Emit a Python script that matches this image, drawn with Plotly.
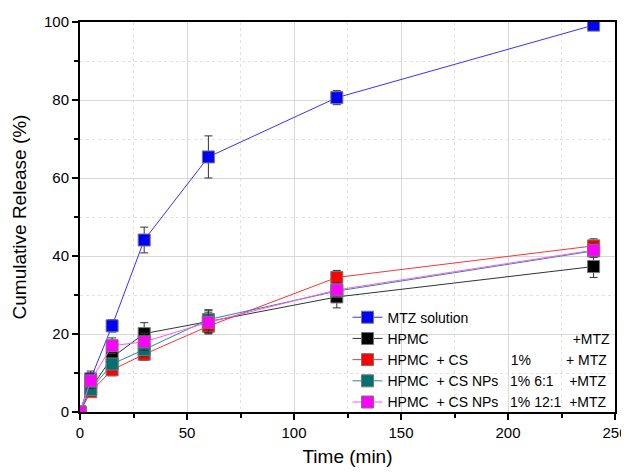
import plotly.graph_objects as go

time_min = [0, 5, 15, 30, 60, 120, 240]

mtz_solution = [0, 8.5, 22.1, 44.1, 65.4, 80.6, 99.2]
mtz_solution_err = [0, 2.0, 1.6, 3.3, 5.4, 1.8, 0.8]

hpmc = [0, 6.0, 14.0, 20.1, 23.2, 29.5, 37.3]
hpmc_err = [0, 1.5, 1.6, 2.8, 3.0, 2.8, 2.8]

hpmc_cs = [0, 5.2, 10.8, 14.8, 22.0, 34.5, 42.6]
hpmc_cs_err = [0, 1.2, 1.5, 1.6, 2.0, 1.8, 1.8]

hpmc_csnp_6 = [0, 5.8, 12.3, 16.0, 23.7, 31.0, 41.3]
hpmc_csnp_6_err = [0, 1.4, 1.5, 1.8, 2.4, 1.6, 1.6]

hpmc_csnp_12 = [0, 8.0, 17.0, 18.0, 23.0, 31.3, 41.5]
hpmc_csnp_12_err = [0, 2.0, 2.0, 2.2, 2.6, 1.8, 1.8]

NB = "\u00a0"
names = [
    "MTZ solution",
    "HPMC" + NB * 37 + "+MTZ",
    "HPMC" + NB * 2 + "+ CS" + NB * 11 + "1%" + NB * 9 + "+ MTZ",
    "HPMC" + NB * 2 + "+ CS NPs" + NB * 3 + "1%" + NB + "6:1" + NB * 4 + "+MTZ",
    "HPMC" + NB * 2 + "+ CS NPs" + NB * 3 + "1%" + NB + "12:1" + NB * 2 + "+MTZ",
]
series = [mtz_solution, hpmc, hpmc_cs, hpmc_csnp_6, hpmc_csnp_12]
errors = [mtz_solution_err, hpmc_err, hpmc_cs_err, hpmc_csnp_6_err, hpmc_csnp_12_err]
line_colors = ["#3333ff", "#333333", "#ff3333", "#2a8c8c", "#ff55ff"]
marker_colors = ["#0000ff", "#000000", "#ff0000", "#007070", "#ff00ff"]

fig = go.Figure()
for name, y, err, lc, mc in zip(names, series, errors, line_colors, marker_colors):
    fig.add_trace(go.Scatter(
        x=time_min, y=y, name=name, mode="lines+markers",
        line=dict(color=lc, width=1),
        marker=dict(symbol="square", size=12, color=mc,
                    line=dict(color="#777777", width=1)),
        error_y=dict(type="data", array=err, color="#333333", thickness=1, width=4),
    ))

# page body has an 8px margin; keep the figure short enough to avoid scrollbars
fig.update_layout(
    width=621, height=459,
    margin=dict(l=72, r=14, t=14, b=55),
    paper_bgcolor="white", plot_bgcolor="white",
    font=dict(family="Liberation Sans, Arial, sans-serif", size=15, color="black"),
    showlegend=True,
    legend=dict(x=0.5, y=0.283, xanchor="left", yanchor="top",
                bgcolor="rgba(0,0,0,0)", font=dict(size=14, color="black"),
                tracegroupgap=0, itemwidth=30),
    xaxis=dict(
        range=[0, 250], dtick=50, tick0=0, automargin=False,
        ticklabeloverflow="allow",
        title=dict(text="Time (min)", font=dict(size=19), standoff=12),
        showline=True, linecolor="black", linewidth=2, mirror=True,
        ticks="outside", ticklen=6, tickcolor="black", tickwidth=1.5,
        showgrid=True, gridcolor="#d8d8d8", gridwidth=1, zeroline=False,
        minor=dict(dtick=25, ticks="outside", ticklen=4, tickcolor="black",
                   showgrid=True, gridcolor="#e2e2e2", griddash="dot"),
    ),
    yaxis=dict(
        range=[0, 100], dtick=20, tick0=0, automargin=False,
        title=dict(text="Cumulative Release (%)", font=dict(size=19), standoff=12),
        showline=True, linecolor="black", linewidth=2, mirror=True,
        ticks="outside", ticklen=6, tickcolor="black", tickwidth=1.5,
        showgrid=True, gridcolor="#d8d8d8", gridwidth=1, zeroline=False,
        minor=dict(dtick=10, ticks="outside", ticklen=4, tickcolor="black",
                   showgrid=True, gridcolor="#e2e2e2", griddash="dot"),
    ),
)

fig.write_html("out.html")
